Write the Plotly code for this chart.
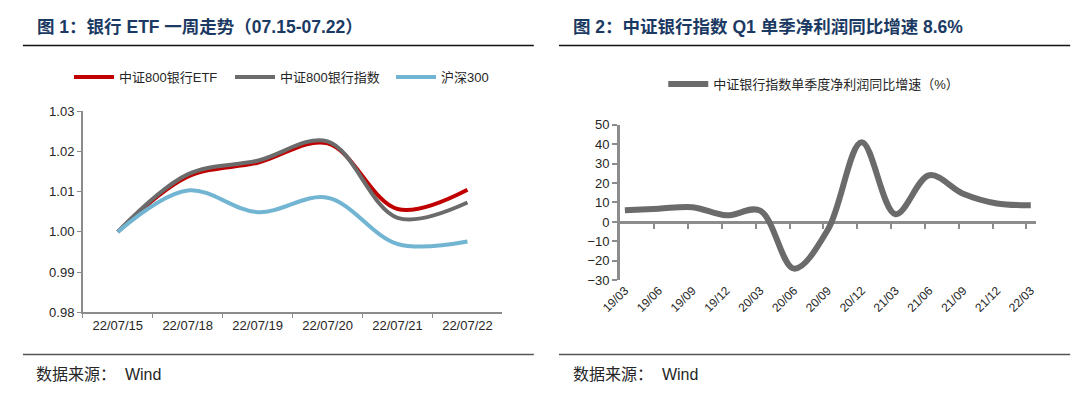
import plotly.graph_objects as go

# ---------------- data ----------------
days = ["22/07/15", "22/07/18", "22/07/19", "22/07/20", "22/07/21", "22/07/22"]
etf = [1.000, 1.0137, 1.0172, 1.0220, 1.0057, 1.0105]
bank_index = [1.000, 1.0143, 1.0177, 1.0225, 1.0035, 1.0073]
hs300 = [1.000, 1.0103, 1.0049, 1.0085, 0.9970, 0.9976]

quarters = ["19/03", "19/06", "19/09", "19/12", "20/03", "20/06", "20/09",
            "20/12", "21/03", "21/06", "21/09", "21/12", "22/03"]
profit_yoy = [6.0, 6.8, 7.6, 3.4, 5.8, -24.0, -4.0, 41.0, 4.0, 24.0, 14.5, 9.5, 8.6]

W, H = 1080, 398
def px(x): return x / W
def py(y): return 1 - y / H

CJK = "Liberation Sans, Arial, Noto Sans CJK SC, sans-serif"
AX = "#8C8C8C"
TXT = "#262626"

fig = go.Figure()

# ---------------- left chart ----------------
fig.add_trace(go.Scatter(x=days, y=etf, name="中证800银行ETF", mode="lines",
                         line=dict(color="#C00000", width=4, shape="spline", smoothing=1),
                         xaxis="x", yaxis="y", legend="legend"))
fig.add_trace(go.Scatter(x=days, y=bank_index, name="中证800银行指数", mode="lines",
                         line=dict(color="#6B6B6B", width=4, shape="spline", smoothing=1),
                         xaxis="x", yaxis="y", legend="legend"))
fig.add_trace(go.Scatter(x=days, y=hs300, name="沪深300", mode="lines",
                         line=dict(color="#72B5D2", width=4, shape="spline", smoothing=1),
                         xaxis="x", yaxis="y", legend="legend"))

# ---------------- right chart ----------------
qidx = list(range(len(quarters)))
fig.add_trace(go.Scatter(x=[None], y=[None], showlegend=False, hoverinfo="skip",
                         xaxis="x2", yaxis="y2"))
fig.add_trace(go.Scatter(x=qidx, y=profit_yoy, name="中证银行指数单季度净利润同比增速（%）",
                         mode="lines",
                         line=dict(color="#6B6B6B", width=6, shape="spline", smoothing=1),
                         xaxis="x3", yaxis="y2", legend="legend2"))

yd2 = [py(284), py(122.3)]
zero_pos = yd2[0] + (0 - (-30)) / 80 * (yd2[1] - yd2[0])
xr2 = [-0.15, len(quarters) - 1 + 0.15]

fig.update_layout(
    width=W, height=H, margin=dict(l=0, r=0, t=0, b=0),
    paper_bgcolor="white", plot_bgcolor="white",
    font=dict(family=CJK, size=13, color=TXT),
    hovermode=False,
    xaxis=dict(domain=[px(64), px(492)], type="category", range=[-0.5, len(days) - 0.5],
               tickson="boundaries", ticks="outside", ticklen=4, tickcolor=AX,
               showline=True, linecolor=AX, linewidth=1.5, showgrid=False,
               tickfont=dict(size=13, color=TXT), anchor="y"),
    yaxis=dict(domain=[py(317.3), py(108.3)], range=[0.98, 1.03], dtick=0.01,
               tickformat=".2f", ticks="outside", ticklen=4, tickcolor=AX,
               showline=True, linecolor=AX, linewidth=1.5, showgrid=False,
               zeroline=False, tickfont=dict(size=13, color=TXT), anchor="x"),
    xaxis2=dict(domain=[px(611.7), px(1036)], range=xr2, tickvals=qidx, ticktext=quarters,
                tickangle=-45, ticks="", showline=False, showgrid=False, zeroline=False,
                tickfont=dict(size=12, color=TXT), anchor="y2"),
    xaxis3=dict(overlaying="x2", anchor="free", position=zero_pos, range=xr2,
                tickvals=[k - 0.13 for k in qidx[1:]], ticks="outside", ticklen=5,
                tickwidth=2, tickcolor=AX, showticklabels=False, showline=True,
                linecolor=AX, linewidth=2.5, showgrid=False, zeroline=False,
                layer="below traces"),
    yaxis2=dict(domain=yd2, range=[-30, 50], dtick=10, ticks="outside", ticklen=5,
                tickwidth=2, tickcolor=AX, showline=True, linecolor=AX, linewidth=2.5,
                showgrid=False, zeroline=False, tickfont=dict(size=13, color=TXT),
                anchor="x2"),
    legend=dict(orientation="h", x=px(50), xanchor="left", y=py(72.7), yanchor="middle",
                font=dict(size=13, color=TXT), entrywidth=106, entrywidthmode="pixels",
                bgcolor="rgba(0,0,0,0)", itemwidth=40),
    legend2=dict(orientation="h", x=px(656), xanchor="left", y=py(80), yanchor="middle",
                 font=dict(size=13, color=TXT), bgcolor="rgba(0,0,0,0)", itemwidth=40),
    showlegend=True,
)

NAVY = "#1B3A63"
fig.add_annotation(text="<b>图 1：银行 ETF 一周走势（07.15-07.22）</b>", x=px(15), y=py(21),
                   xref="paper", yref="paper", xanchor="left", yanchor="middle",
                   showarrow=False, font=dict(size=17.5, color=NAVY, family=CJK))
fig.add_annotation(text="<b>图 2：中证银行指数 Q1 单季净利润同比增速 8.6%</b>", x=px(562), y=py(21),
                   xref="paper", yref="paper", xanchor="left", yanchor="middle",
                   showarrow=False, font=dict(size=17.5, color=NAVY, family=CJK))
for x0 in (14, 562):
    fig.add_annotation(text="数据来源：  Wind", x=px(x0), y=py(381.7), xref="paper", yref="paper",
                       xanchor="left", yanchor="middle", showarrow=False,
                       font=dict(size=16, color=TXT, family=CJK))

for (x0, x1) in ((3, 524), (549.7, 1071)):
    fig.add_shape(type="line", xref="paper", yref="paper", x0=px(x0), x1=px(x1),
                  y0=py(40), y1=py(40), line=dict(color="#111111", width=1.5))
    fig.add_shape(type="line", xref="paper", yref="paper", x0=px(x0), x1=px(x1),
                  y0=py(361), y1=py(361), line=dict(color="#555555", width=1.5))

fig.write_html("out.html", config={"displayModeBar": False},
               post_script=("document.documentElement.style.margin='0';"
                            "document.body.style.margin='0';document.body.style.padding='0';"
                            "document.documentElement.style.overflow='hidden';"
                            "document.body.style.overflow='hidden';"))
